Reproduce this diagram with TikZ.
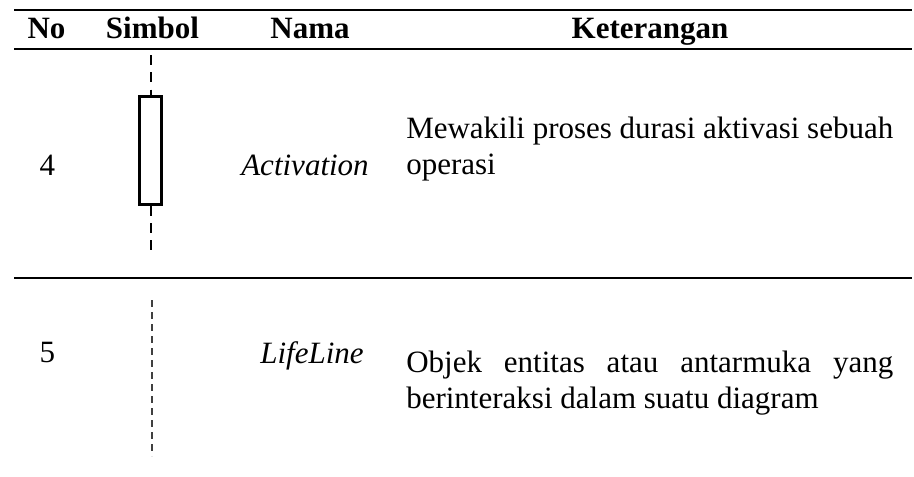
\documentclass[tikz,border=0pt]{standalone}
\usepackage{fontspec}
\setmainfont{Liberation Serif}
\begin{document}
\begin{tikzpicture}[x=0.75pt,y=-0.75pt,
  rule/.style={line width=1.5pt},
  txt/.style={font=\fontsize{23.25}{27}\selectfont, inner sep=0pt, anchor=base},
  head/.style={txt, font=\fontsize{23.25}{27}\selectfont\bfseries},
  desc/.style={txt, anchor=base west},
  actbox/.style={draw, line width=1.9pt, fill=white, minimum width=16.8pt, minimum height=81pt, inner sep=0pt},
  actline/.style={line width=1.5pt, dash pattern=on 7.5pt off 5.5pt},
  lifeline/.style={black!75, line width=1.5pt, dash pattern=on 5.6pt off 3.4pt}]
  \fill[white] (0,0) rectangle (914,476);
  \useasboundingbox (0,0) rectangle (914,476);

  % horizontal rules of the table
  \draw[rule] (14,10) -- (912,10);
  \draw[rule] (14,49) -- (912,49);
  \draw[rule] (14,277.5) -- (912,277.5);

  % header
  \node[head] (hNo)  at (46.5,38) {No};
  \node[head] (hSim) at (152.5,38) {Simbol};
  \node[head] (hNam) at (310,38) {Nama};
  \node[head] (hKet) at (650,38) {Keterangan};

  % row 4: activation
  \node[txt] (no4) at (47.5,175) {4};
  \node[actbox] (act) at (150.5,150.5) {};
  \coordinate (actTop) at (150.5,55);
  \coordinate (actBot) at (150.5,256);
  \draw[actline] (actTop) -- (act.north);
  \draw[actline] (act.south) -- (actBot);
  \node[txt, font=\fontsize{23.25}{27}\selectfont\itshape] (nam4) at (305,175) {Activation};
  \node[desc] (k4a) at (406,138) {\makebox[365.25pt][s]{Mewakili proses durasi aktivasi sebuah}};
  \node[desc] (k4b) at (406,174.5) {operasi};

  % row 5: lifeline
  \node[txt] (no5) at (47.5,362) {5};
  \coordinate (lifeTop) at (152,300);
  \coordinate (lifeBot) at (152,456);
  \draw[lifeline] (lifeTop) -- (lifeBot);
  \node[txt, font=\fontsize{23.25}{27}\selectfont\itshape] (nam5) at (312,363) {LifeLine};
  \node[desc] (k5a) at (406,372) {\makebox[365.25pt][s]{Objek entitas atau antarmuka yang}};
  \node[desc] (k5b) at (406,408.5) {berinteraksi dalam suatu diagram};
\end{tikzpicture}
\end{document}
